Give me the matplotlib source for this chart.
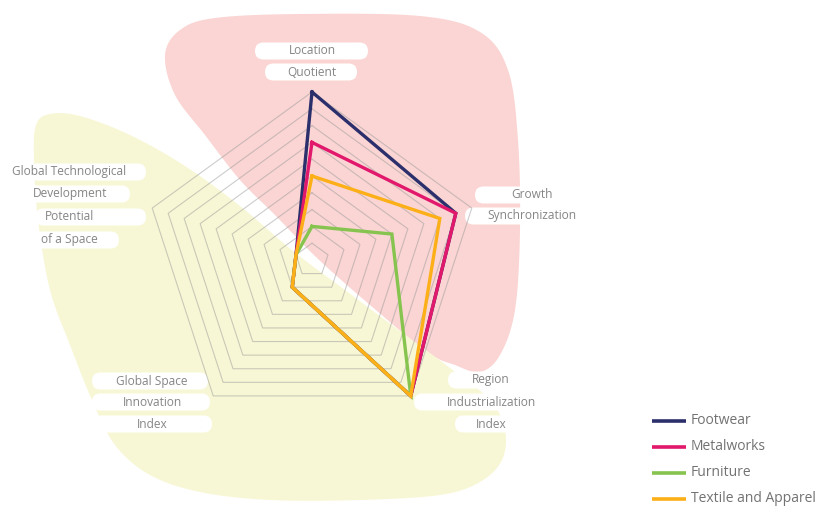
import numpy as np
import matplotlib.pyplot as plt
from matplotlib.patches import Polygon, FancyBboxPatch

# radar axes, clockwise from the top
categories = ["Location Quotient", "Growth Synchronization", "Region Industrialization Index",
              "Global Space Innovation Index", "Global Technological Development Potential of a Space"]
series_names = ["Footwear", "Metalworks", "Furniture", "Textile and Apparel"]
footwear = [1.0, 0.9, 1.0, 0.2, 0.1]
metalworks = [0.7, 0.9, 1.0, 0.2, 0.1]
furniture = [0.2, 0.5, 1.0, 0.2, 0.1]
textile = [0.5, 0.8, 1.0, 0.2, 0.1]
grid_levels = [0.1, 0.2, 0.3, 0.4, 0.5, 0.6, 0.7, 0.8, 0.9, 1.0]

colors = ["#2b2f6b", "#e2186c", "#86c44f", "#fcaf17"]
text_col = "#858585"

# label lines: text, text x, y, box x0, box x1 (pixels from top-left)
label_lines = [
    ("Location", 312, 51, 255, 368), ("Quotient", 312, 72, 265, 357),
    ("Growth", 532, 195, 475, 575), ("Synchronization", 532, 216, 465, 580),
    ("Region", 491, 380, 448, 530), ("Industrialization", 491, 402, 414, 545),
    ("Index", 491, 424, 455, 527),
    ("Global Space", 152, 381, 92, 208), ("Innovation", 152, 402, 92, 210),
    ("Index", 152, 424, 92, 212),
    ("Global Technological", 69, 172, 3, 146), ("Development", 70, 194, 25, 130),
    ("Potential", 70, 217, 35, 146), ("of a Space", 69, 240, 33, 119),
]

# background blob outlines (pixels)
pink_pts = [(165, 55), (180, 30), (215, 18), (300, 14), (420, 16), (480, 32), (508, 70),
            (518, 140), (520, 230), (515, 310), (500, 355), (480, 372), (455, 365),
            (427, 352), (370, 305), (317, 258), (275, 215), (240, 180), (205, 135), (175, 95)]
yellow_pts = [(36, 125), (50, 114), (80, 116), (130, 135), (185, 166), (240, 206), (293, 251),
              (345, 290), (400, 331), (450, 368), (490, 400), (505, 430), (502, 460),
              (480, 482), (440, 495), (360, 500), (270, 500), (200, 492), (150, 475),
              (115, 445), (92, 400), (70, 345), (50, 290), (38, 220), (34, 160)]


def smooth_closed(pts, n=12):
    p = np.array(pts, dtype=float)
    out = []
    m = len(p)
    for i in range(m):
        p0, p1, p2, p3 = p[i - 1], p[i], p[(i + 1) % m], p[(i + 2) % m]
        for t in np.linspace(0, 1, n, endpoint=False):
            t2, t3 = t * t, t * t * t
            out.append(0.5 * (2 * p1 + (-p0 + p2) * t + (2 * p0 - 5 * p1 + 4 * p2 - p3) * t2
                              + (-p0 + 3 * p1 - 3 * p2 + p3) * t3))
    return np.array(out)


W, H = 816, 508
fig = plt.figure(figsize=(W / 100, H / 100), dpi=100)

bg = fig.add_axes([0, 0, 1, 1])
bg.set_xlim(0, W)
bg.set_ylim(H, 0)
bg.axis("off")
bg.add_patch(Polygon(smooth_closed(pink_pts), closed=True, fc="#fad5d3", ec="none"))
bg.add_patch(Polygon(smooth_closed(yellow_pts), closed=True, fc="#f8f7d5", ec="none"))

for txt, tx, ty, x0, x1 in label_lines:
    bg.add_patch(FancyBboxPatch((x0, ty - 8.5), x1 - x0, 17,
                                boxstyle="round,pad=0,rounding_size=8.5",
                                fc="white", ec="none", zorder=3))
    bg.text(tx, ty, txt, ha="center", va="center", fontsize=8.6, color=text_col,
            family="Open Sans", zorder=4)

# radar
cx, cy, R = 312, 260, 168
ax = fig.add_axes([(cx - R) / W, (H - cy - R) / H, 2 * R / W, 2 * R / H], projection="polar")
ax.set_theta_offset(np.pi / 2)
ax.set_theta_direction(-1)
ax.set_ylim(0, 1)
ax.patch.set_alpha(0)
ax.set_axis_off()

theta = np.linspace(0, 2 * np.pi, len(categories), endpoint=False)
theta_c = np.append(theta, theta[0])
for lv in grid_levels:
    ax.plot(theta_c, [lv] * len(theta_c), color="#9a9a9a", lw=0.8, alpha=0.5, clip_on=False)

for vals, col in zip([footwear, metalworks, furniture, textile], colors):
    ax.plot(theta_c, vals + vals[:1], color=col, lw=2.4, clip_on=False,
            solid_joinstyle="miter")

# legend
for i, (name, col) in enumerate(zip(series_names, colors)):
    y = 421 + i * 26
    bg.plot([652, 686], [y, y], color=col, lw=2.6, solid_capstyle="butt")
    bg.text(691, y, name, ha="left", va="center", fontsize=10, color="#727272",
            family="Open Sans")

fig.savefig("out.png", dpi=100)
